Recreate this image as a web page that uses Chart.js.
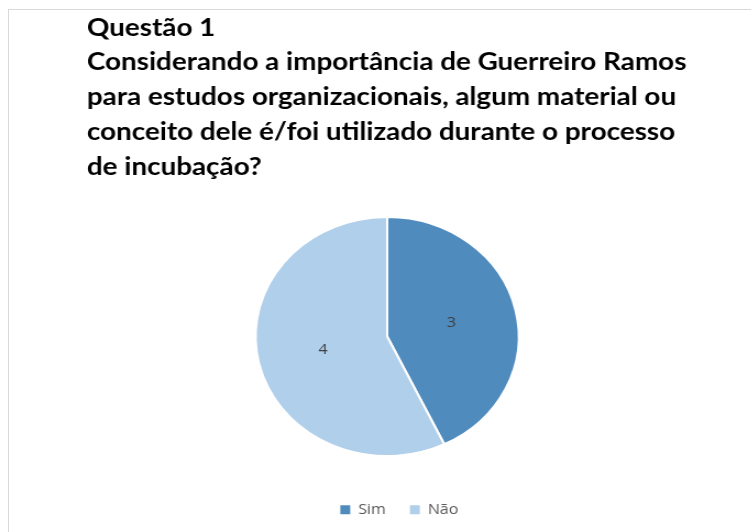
<!DOCTYPE html>
<html lang="pt">
<head>
<meta charset="utf-8">
<title>Questão 1</title>
<script src="https://cdn.jsdelivr.net/npm/chart.js@4/dist/chart.umd.min.js"></script>
<style>
    html, body { margin: 0; padding: 0; background: #fff; overflow: hidden; }
    body { width: 751px; height: 532px; position: relative; }
    /* moldura cinza clara no topo e à esquerda */
    #moldura {
        position: absolute; left: 8px; top: 9px; right: 0; bottom: 0;
        border-left: 1px solid #d9d9d9; border-top: 1px solid #d9d9d9;
    }
    /* o gráfico original é esticado na horizontal */
    #caixa {
        position: absolute; left: 0; top: 0; width: 683px; height: 532px;
        transform: scaleX(1.1); transform-origin: 0 0;
    }
</style>
</head>
<body>
<div id="moldura"></div>
<div id="caixa"><canvas id="graficoPizza"></canvas></div>
<script>
// dados da questão 1
const categorias = ['Sim', 'Não'];
const respostas = [3, 4];
const cores = ['#4f8bbd', '#b0cfea'];
const tituloLinhas = [
    'Questão 1',
    'Considerando a importância de Guerreiro Ramos',
    'para estudos organizacionais, algum material ou',
    'conceito dele é/foi utilizado durante o processo',
    'de incubação?'
];

// escreve o valor de cada fatia no meio do raio
const rotulosFatias = {
    id: 'rotulosFatias',
    afterDatasetsDraw(chart) {
        const ctx = chart.ctx;
        const meta = chart.getDatasetMeta(0);
        ctx.save();
        ctx.font = '14.5px "Open Sans", sans-serif';
        ctx.fillStyle = '#404040';
        ctx.textAlign = 'center';
        ctx.textBaseline = 'middle';
        meta.data.forEach((arco, i) => {
            const pos = arco.tooltipPosition();
            ctx.fillText(String(respostas[i]), pos.x, pos.y);
        });
        ctx.restore();
    }
};

// a legenda fica um pouco à direita do centro da pizza
const deslocaLegenda = {
    id: 'deslocaLegenda',
    afterLayout(chart) {
        chart.legend.left += 11;
        chart.legend.right += 11;
    }
};

const ctx = document.getElementById('graficoPizza').getContext('2d');
new Chart(ctx, {
    type: 'pie',
    data: {
        labels: categorias,
        datasets: [{
            data: respostas,
            backgroundColor: cores,
            borderColor: '#ffffff',
            borderWidth: 2
        }]
    },
    options: {
        responsive: true,
        maintainAspectRatio: false,
        animation: false,
        layout: {
            padding: { left: 79, right: 58, top: 0, bottom: 5 }
        },
        plugins: {
            title: {
                display: true,
                text: tituloLinhas,
                align: 'start',
                color: '#000000',
                font: { family: 'Lato', size: 25.3, weight: 'bold', lineHeight: 1.375 },
                padding: { top: 10, bottom: 32 }
            },
            legend: {
                display: true,
                position: 'bottom',
                // título vazio só para abrir espaço acima da legenda
                title: {
                    display: true,
                    text: '',
                    font: { size: 12, lineHeight: 1.2 },
                    padding: { top: 9, bottom: 0 }
                },
                labels: {
                    boxWidth: 9,
                    boxHeight: 9,
                    color: '#595959',
                    font: { family: 'Open Sans', size: 14.5 },
                    padding: 22,
                    // quadradinhos cheios, sem a borda branca das fatias
                    generateLabels(chart) {
                        const itens = Chart.controllers.pie.overrides.plugins.legend.labels.generateLabels(chart);
                        itens.forEach(item => { item.lineWidth = 0; });
                        return itens;
                    }
                }
            },
            tooltip: { enabled: false }
        }
    },
    plugins: [rotulosFatias, deslocaLegenda]
});
</script>
</body>
</html>
